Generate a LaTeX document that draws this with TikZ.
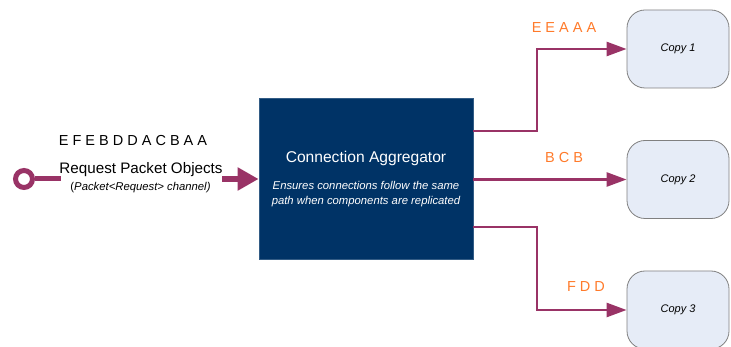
\documentclass[tikz,border=0pt]{standalone}
\usepackage{fontspec}
\setmainfont{Liberation Sans}
\usetikzlibrary{arrows.meta}
\definecolor{wire}{HTML}{993366}
\definecolor{navy}{HTML}{003366}
\definecolor{lbl}{HTML}{FF7A2A}
\definecolor{copyfill}{HTML}{E6ECF7}
\definecolor{copyline}{HTML}{808080}
\begin{document}
\begin{tikzpicture}[x=1pt,y=-1pt,
  aggbox/.style={draw=navy!80!white,line width=0.8pt,fill=navy,minimum width=214pt,minimum height=161pt,inner sep=0pt},
  copybox/.style={draw=copyline,line width=0.8pt,fill=copyfill,rounded corners=18pt,minimum width=102pt,minimum height=78pt,inner sep=0pt,font=\fontsize{11}{13}\selectfont\itshape},
  outwire/.style={draw=wire,line width=2.6pt,-{Triangle[length=20pt,width=14pt]}},
  inwire/.style={draw=wire,line width=6pt},
  seqlbl/.style={text=lbl,font=\fontsize{14.5}{17}\selectfont,inner sep=0pt}
]
\useasboundingbox (0,0) rectangle (731,347);
% aggregator
\node[aggbox] (agg) at (366,178.5) {};
\node[text=white,font=\fontsize{15.6}{18}\selectfont,inner sep=0pt] (aggt) at (366,158) {Connection Aggregator};
\node[text=white,font=\fontsize{11.3}{14.5}\selectfont\itshape,align=center,inner sep=0pt] (aggd) at (366,194) {Ensures connections follow the same\\path when components are replicated};
% copies
\node[copybox] (c1) at (678,49) {Copy 1};
\node[copybox] (c2) at (678,179.5) {Copy 2};
\node[copybox] (c3) at (678,310) {Copy 3};
% input
\node[draw=wire,line width=5pt,circle,minimum size=17pt,inner sep=0pt,fill=white] (port) at (24,179) {};
\coordinate (inend) at (61,179);
\draw[wire,line width=5pt] (port.east) -- (inend);
\coordinate (arrs) at (222,179);
\draw[inwire,-{Triangle[length=21pt,width=22pt]}] (arrs) -- (agg.west |- arrs);
\node[font=\fontsize{14.5}{17}\selectfont,inner sep=0pt] (seq) at (133,141) {E F E B D D A C B A A};
\node[font=\fontsize{15.2}{17}\selectfont,inner sep=0pt] (rpo) at (141,170) {Request Packet Objects};
\node[font=\fontsize{11.3}{13}\selectfont,inner sep=0pt] (chan) at (140.5,187.5) {(\textit{Packet<Request> channel)}};
% outputs
\coordinate (o1) at (473,131);
\coordinate (o2) at (473,179.5);
\coordinate (o3) at (473,227);
\draw[outwire] (o1) -- (537,131) |- (c1.west);
\draw[outwire] (o2) -- (c2.west);
\draw[outwire] (o3) -- (537,227) |- (c3.west);
\node[seqlbl] (l1) at (564,28) {E E A A A};
\node[seqlbl] (l2) at (564,158) {B C B};
\node[seqlbl] (l3) at (586,287) {F D D};
\end{tikzpicture}
\end{document}
